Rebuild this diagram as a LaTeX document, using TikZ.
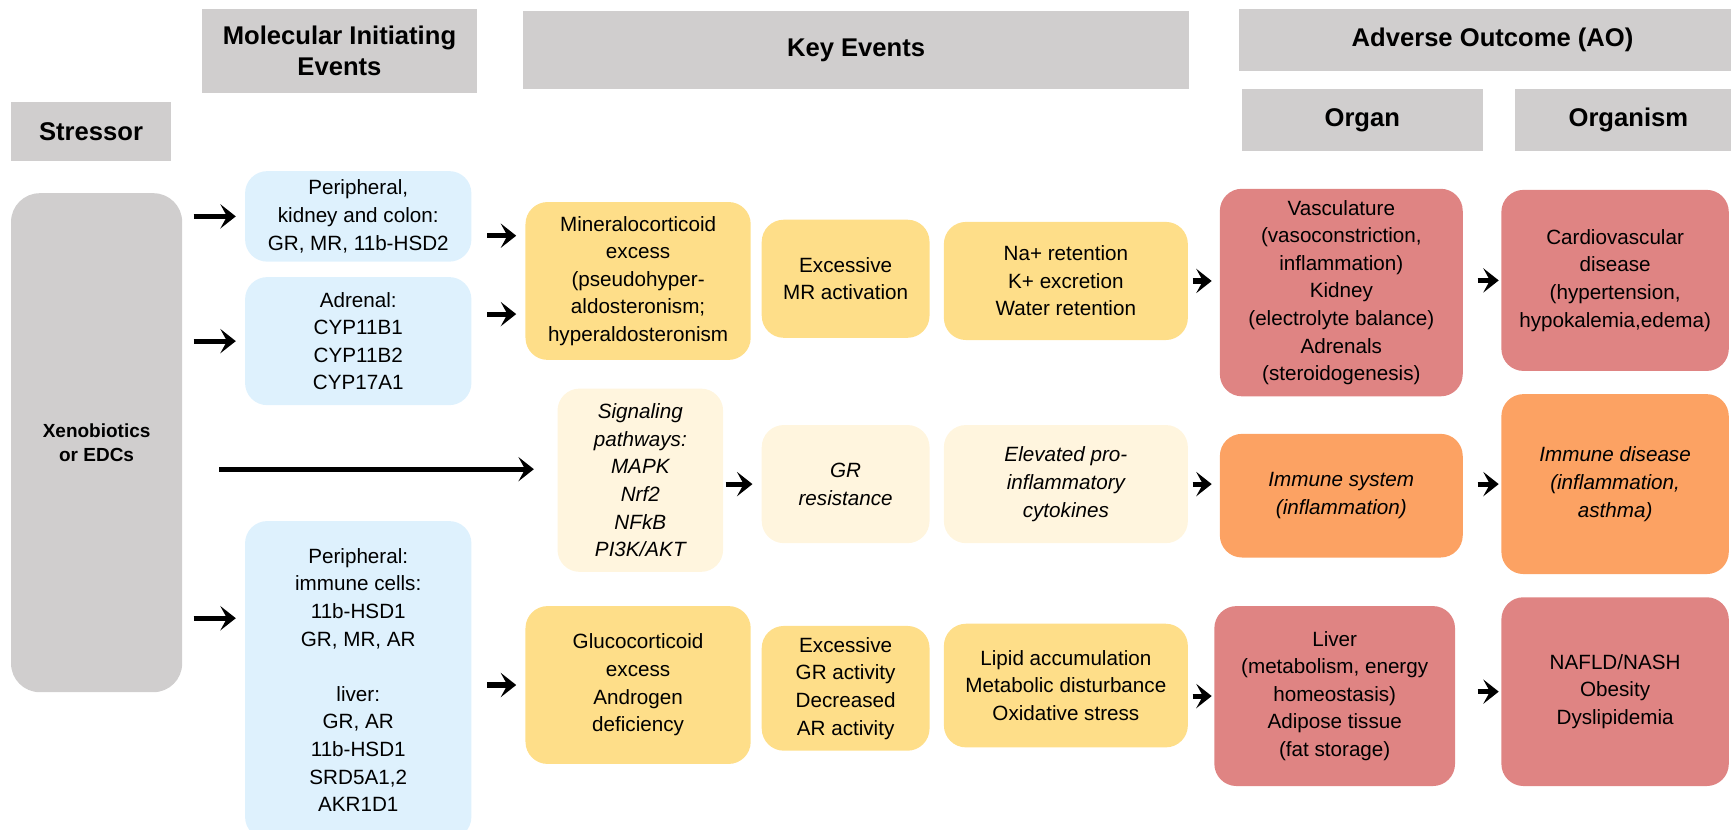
\documentclass[tikz,border=0pt]{standalone}
\usepackage{fontspec}
\setmainfont{Liberation Sans}
\usetikzlibrary{arrows.meta}
\definecolor{hdrgray}{RGB}{208,206,206}
\definecolor{mieblue}{RGB}{222,241,253}
\definecolor{keyellow}{RGB}{254,222,137}
\definecolor{kecream}{RGB}{255,245,222}
\definecolor{aored}{RGB}{223,132,131}
\definecolor{aoorange}{RGB}{252,162,99}

\begin{document}
\begin{tikzpicture}[x=0.5pt,y=-0.5pt,
    hdr/.style={fill=hdrgray,inner sep=0pt,align=center,font=\fontsize{11.6}{14}\selectfont\bfseries},
    box/.style={rounded corners=10pt,inner sep=0pt,align=center,font=\fontsize{9.35}{12.5}\selectfont},
    it/.style={font=\fontsize{9.35}{12.5}\selectfont\itshape},
    arr/.style={line width=2.3pt,-{Stealth[length=7pt,width=11pt,inset=3pt]},shorten <=5pt,shorten >=4pt}]
    \clip (0,0) rectangle (1568,751);
    % headers
    \node[hdr,minimum width=72.5pt,minimum height=27pt] (hstress) at (82.5,119) {Stressor};
    \node[hdr,minimum width=124.5pt,minimum height=38pt] (hmie) at (307.5,46) {Molecular Initiating\\Events};
    \node[hdr,minimum width=301.5pt,minimum height=35.5pt] (hke) at (775.5,45.5) {Key Events};
    \node[hdr,minimum width=230pt,minimum height=28pt] (hao) at (1352,36) {Adverse Outcome (AO)};
    \node[hdr,minimum width=109pt,minimum height=28pt] (horgan) at (1234,109) {Organ};
    \node[hdr,minimum width=103pt,minimum height=28pt] (horganism) at (1475,109) {Organism};

    % stressor
    \node[box,rounded corners=13pt,fill=hdrgray,minimum width=77.5pt,minimum height=226pt,
        font=\fontsize{8.6}{11}\selectfont\bfseries] (stress) at (87.5,401) {Xenobiotics\\or EDCs};

    % molecular initiating events
    \node[box,fill=mieblue,minimum width=102.5pt,minimum height=41pt] (mie1) at (324.5,196)
        {Peripheral,\\kidney and colon:\\GR, MR, 11b-HSD2};
    \node[box,fill=mieblue,minimum width=102.5pt,minimum height=58pt] (mie2) at (324.5,309)
        {Adrenal:\\CYP11B1\\CYP11B2\\CYP17A1};
    \node[box,fill=mieblue,minimum width=102.5pt,minimum height=144pt] (mie3) at (324.5,616)
        {Peripheral:\\immune cells:\\11b-HSD1\\GR, MR, AR\\[12.5pt]liver:\\GR, AR\\11b-HSD1\\SRD5A1,2\\AKR1D1};

    % key events
    \node[box,fill=keyellow,minimum width=102pt,minimum height=71.5pt] (mineral) at (578,254.5)
        {Mineralocorticoid\\excess\\(pseudohyper-\\aldosteronism;\\hyperaldosteronism};
    \node[box,fill=keyellow,minimum width=76pt,minimum height=53.5pt] (mract) at (766,252.5)
        {Excessive\\MR activation};
    \node[box,fill=keyellow,minimum width=110.5pt,minimum height=53.5pt] (na) at (965.5,254.5)
        {Na+ retention\\K+ excretion\\Water retention};
    \node[box,it,fill=kecream,minimum width=75pt,minimum height=83pt] (signal) at (580,435)
        {Signaling\\pathways:\\MAPK\\Nrf2\\NFkB\\PI3K/AKT};
    \node[box,it,fill=kecream,minimum width=76pt,minimum height=53.5pt] (grres) at (766,438.5)
        {GR\\resistance};
    \node[box,it,fill=kecream,minimum width=110.5pt,minimum height=53.5pt] (elev) at (965.5,438.5)
        {Elevated pro-\\inflammatory\\cytokines};
    \node[box,fill=keyellow,minimum width=102pt,minimum height=71.5pt] (gluco) at (578,620.5)
        {Glucocorticoid\\excess\\Androgen\\deficiency};
    \node[box,fill=keyellow,minimum width=76pt,minimum height=56.5pt] (exgr) at (766,623.5)
        {Excessive\\GR activity\\Decreased\\AR activity};
    \node[box,fill=keyellow,minimum width=110.5pt,minimum height=56pt] (lipid) at (965.5,621)
        {Lipid accumulation\\Metabolic disturbance\\Oxidative stress};

    % adverse outcome
    \node[box,fill=aored,minimum width=110pt,minimum height=94pt] (vasc) at (1215,265)
        {Vasculature\\(vasoconstriction,\\inflammation)\\Kidney\\(electrolyte balance)\\Adrenals\\(steroidogenesis)};
    \node[box,fill=aored,minimum width=103pt,minimum height=82pt] (cardio) at (1463,254)
        {Cardiovascular\\disease\\(hypertension,\\hypokalemia,edema)};
    \node[box,it,fill=aoorange,minimum width=110pt,minimum height=56pt] (immsys) at (1215,449)
        {Immune system\\(inflammation)};
    \node[box,it,fill=aoorange,minimum width=103pt,minimum height=81.5pt] (immdis) at (1463,438.5)
        {Immune disease\\(inflammation,\\asthma)};
    \node[box,fill=aored,minimum width=109pt,minimum height=81.5pt] (liver) at (1209,630.5)
        {Liver\\(metabolism, energy\\homeostasis)\\Adipose tissue\\(fat storage)};
    \node[box,fill=aored,minimum width=103pt,minimum height=85.5pt] (nafld) at (1463,626.5)
        {NAFLD/NASH\\Obesity\\Dyslipidemia};

    % arrows
    \coordinate (m3in) at ([yshift=28pt]mie3.west);
    \coordinate (sigin) at ([yshift=5pt]signal.west);
    \coordinate (minin1) at ([yshift=20.5pt]mineral.west);
    \coordinate (minin2) at ([yshift=-15pt]mineral.west);
    \draw[arr] (stress.east |- mie1.west) -- (mie1.west);
    \draw[arr] (stress.east |- mie2.west) -- (mie2.west);
    \draw[arr] (stress.east |- m3in) -- (m3in);
    \draw[arr,shorten <=16.5pt,shorten >=10.5pt] (stress.east |- sigin) -- (sigin);
    \draw[arr,shorten <=7pt] (mie1.east |- minin1) -- (minin1);
    \draw[arr,shorten <=7pt] (mie2.east |- minin2) -- (minin2);
    \draw[arr,shorten <=7pt] (mie3.east |- gluco.west) -- (gluco.west);
    \draw[arr,shorten <=1pt] (signal.east |- grres.west) -- (grres.west);
    \draw[arr,shorten <=2pt,shorten >=3.5pt] (na.east) -- (na.east -| vasc.west);
    \draw[arr,shorten <=2pt,shorten >=3.5pt] (elev.east) -- (elev.east -| immsys.west);
    \draw[arr,shorten <=2pt,shorten >=1pt] (lipid.east |- liver.west) -- (liver.west);
    \draw[arr,shorten <=6.5pt,shorten >=1pt] (vasc.east |- cardio.west) -- (cardio.west);
    \draw[arr,shorten <=6.5pt,shorten >=1pt] (immsys.east |- immdis.west) -- (immdis.west);
    \draw[arr,shorten <=10pt,shorten >=1pt] (liver.east |- nafld.west) -- (nafld.west);
\end{tikzpicture}
\end{document}
